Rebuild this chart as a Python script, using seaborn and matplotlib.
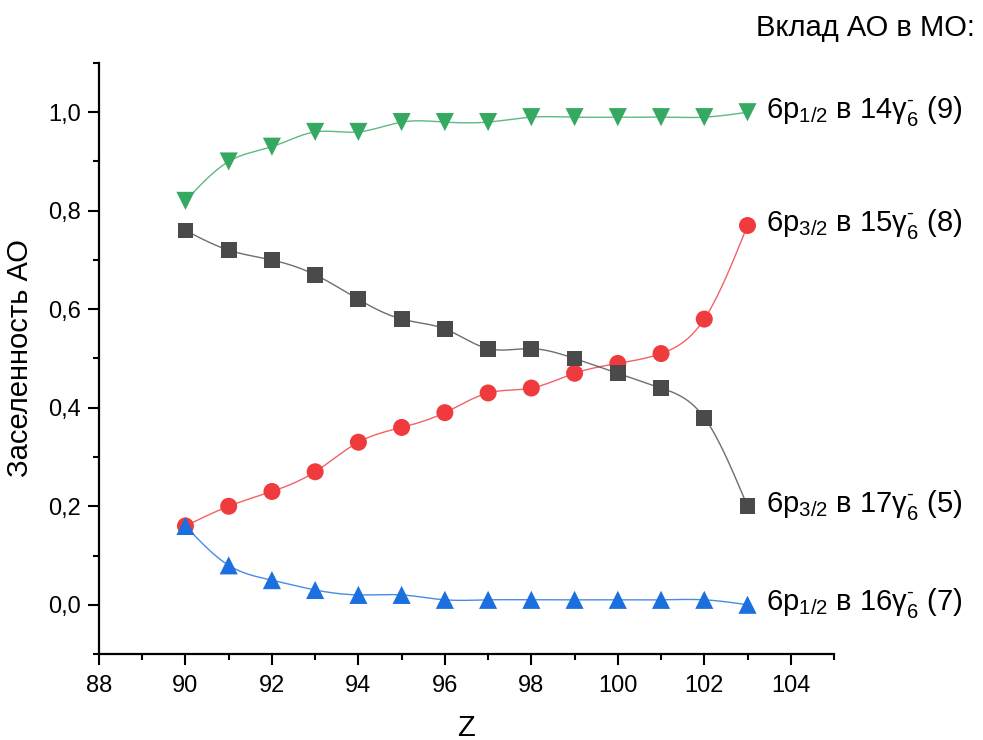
import numpy as np
import pandas as pd
import matplotlib
matplotlib.use("Agg")
import matplotlib.pyplot as plt
from matplotlib.ticker import MultipleLocator, FuncFormatter
import seaborn as sns

# Atomic number Z
z = [90, 91, 92, 93, 94, 95, 96, 97, 98, 99, 100, 101, 102, 103]

# Population of atomic orbitals in the molecular orbitals
p12_14g6 = [0.82, 0.90, 0.93, 0.96, 0.96, 0.98, 0.98, 0.98, 0.99, 0.99, 0.99, 0.99, 0.99, 1.00]
p32_15g6 = [0.16, 0.20, 0.23, 0.27, 0.33, 0.36, 0.39, 0.43, 0.44, 0.47, 0.49, 0.51, 0.58, 0.77]
p32_17g6 = [0.76, 0.72, 0.70, 0.67, 0.62, 0.58, 0.56, 0.52, 0.52, 0.50, 0.47, 0.44, 0.38, 0.20]
p12_16g6 = [0.16, 0.08, 0.05, 0.03, 0.02, 0.02, 0.01, 0.01, 0.01, 0.01, 0.01, 0.01, 0.01, 0.00]

labels = [
    r"6p$_{1/2}$ в 14$\gamma_6^{\text{-}}$ (9)",
    r"6p$_{3/2}$ в 15$\gamma_6^{\text{-}}$ (8)",
    r"6p$_{3/2}$ в 17$\gamma_6^{\text{-}}$ (5)",
    r"6p$_{1/2}$ в 16$\gamma_6^{\text{-}}$ (7)",
]
series = [p12_14g6, p32_15g6, p32_17g6, p12_16g6]
colors = ["#35a961", "#ef3b3d", "#4a4a4a", "#1c6fde"]
markers = ["v", "o", "s", "^"]
msizes = [170, 150, 130, 170]

sns.set_theme(style="ticks")
plt.rcParams["font.family"] = ["Liberation Sans", "DejaVu Sans"]
plt.rcParams["mathtext.fontset"] = "custom"
plt.rcParams["mathtext.rm"] = "Liberation Sans"
plt.rcParams["mathtext.it"] = "Liberation Sans:italic"
plt.rcParams["mathtext.default"] = "rm"


def spline_connector(x, y, n=30):
    """Natural cubic spline through the points, used for the connecting line."""
    x = np.asarray(x, float)
    y = np.asarray(y, float)
    m = len(x)
    h = np.diff(x)
    A = np.zeros((m, m))
    b = np.zeros(m)
    A[0, 0] = A[-1, -1] = 1.0
    for i in range(1, m - 1):
        A[i, i - 1] = h[i - 1]
        A[i, i] = 2 * (h[i - 1] + h[i])
        A[i, i + 1] = h[i]
        b[i] = 3 * ((y[i + 1] - y[i]) / h[i] - (y[i] - y[i - 1]) / h[i - 1])
    c = np.linalg.solve(A, b)
    xs, ys = [], []
    for i in range(m - 1):
        t = np.linspace(0, h[i], n, endpoint=(i == m - 2))
        bi = (y[i + 1] - y[i]) / h[i] - h[i] * (2 * c[i] + c[i + 1]) / 3
        di = (c[i + 1] - c[i]) / (3 * h[i])
        xs.append(x[i] + t)
        ys.append(y[i] + bi * t + c[i] * t ** 2 + di * t ** 3)
    return np.concatenate(xs), np.concatenate(ys)


fig = plt.figure(figsize=(9.83, 7.40), dpi=100)
ax = fig.add_axes([0.1007, 0.1162, 0.7477, 0.7987])

for vals, col, mk, ms in zip(series, colors, markers, msizes):
    sx, sy = spline_connector(z, vals)
    sns.lineplot(x=sx, y=sy, ax=ax, color=col, linewidth=1.0, alpha=0.8,
                 estimator=None, sort=False, legend=False)
for vals, col, mk, ms in zip(series, colors, markers, msizes):
    df = pd.DataFrame({"Z": z, "v": vals})
    sns.scatterplot(data=df, x="Z", y="v", ax=ax, color=col, marker=mk, s=ms,
                    edgecolor="none", linewidth=0, legend=False, zorder=3)

# Series labels next to the last point of each curve
for vals, lab in zip(series, labels):
    ax.annotate(lab, xy=(z[-1], vals[-1]), xytext=(13, 1), textcoords="offset points",
                fontsize=21, va="center", ha="left", color="black", annotation_clip=False)

fig.text(0.992, 0.962, "Вклад АО в МО:", fontsize=21, ha="right", va="center", color="black")

ax.set_xlim(88, 105)
ax.set_ylim(-0.1, 1.1)
ax.xaxis.set_major_locator(MultipleLocator(2))
ax.xaxis.set_minor_locator(MultipleLocator(1))
ax.yaxis.set_major_locator(MultipleLocator(0.2))
ax.yaxis.set_minor_locator(MultipleLocator(0.1))
ax.yaxis.set_major_formatter(FuncFormatter(lambda v, p: f"{v:.1f}".replace(".", ",").replace("-0,0", "0,0")))

for side in ["top", "right"]:
    ax.spines[side].set_visible(False)
for side in ["left", "bottom"]:
    ax.spines[side].set_linewidth(1.6)
    ax.spines[side].set_color("black")

ax.tick_params(axis="both", which="major", length=8, width=1.5, labelsize=17, color="black",
               labelcolor="black", direction="out")
ax.tick_params(axis="both", which="minor", length=4, width=1.5, color="black", direction="out")
ax.tick_params(axis="y", which="major", pad=5)
ax.tick_params(axis="x", which="major", pad=7)

ax.set_xlabel("Z", fontsize=21, labelpad=12, color="black")
ax.set_ylabel("Заселенность АО", fontsize=21, labelpad=10, color="black")
ax.set_facecolor("white")
fig.patch.set_facecolor("white")

fig.savefig("out.png", dpi=100, facecolor="white")
